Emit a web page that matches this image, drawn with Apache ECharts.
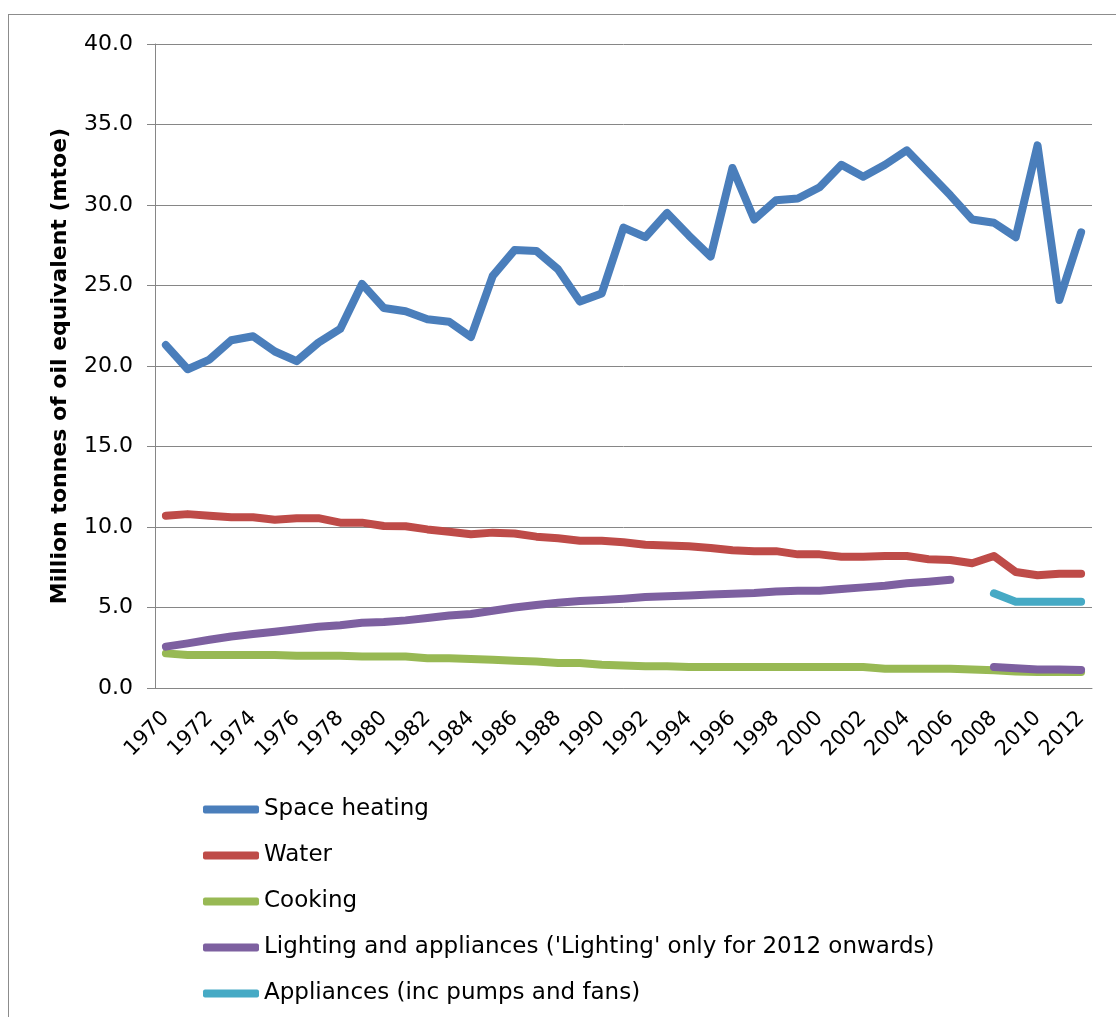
<!DOCTYPE html>
<html>
<head>
<meta charset="utf-8">
<script src="https://cdn.jsdelivr.net/npm/echarts@6/dist/echarts.min.js"></script>
<style>
  html, body { margin: 0; padding: 0; background: #fff; }
  #frame { position: absolute; left: 8px; top: 14px; width: 1120px; height: 1020px; border: 1px solid #8c8c8c; box-sizing: border-box; }
  #chart { position: absolute; left: 0; top: 0; width: 1116px; height: 1017px; }
</style>
</head>
<body>
<div id="frame"></div>
<div id="chart"></div>
<script>
// years 1970..2012
const years = [];
for (let y = 1970; y <= 2012; y++) years.push(String(y));

const spaceHeating = [21.3, 19.8, 20.4, 21.6, 21.85, 20.9, 20.3, 21.45, 22.3, 25.1,
  23.6, 23.4, 22.9, 22.75, 21.8, 25.6, 27.2, 27.15, 26.0, 24.0,
  24.5, 28.6, 28.0, 29.5, 28.1, 26.8, 32.3, 29.1, 30.3, 30.4,
  31.1, 32.5, 31.75, 32.5, 33.4, 32.0, 30.6, 29.1, 28.9, 28.0,
  33.7, 24.1, 28.3];

const water = [10.7, 10.8, 10.7, 10.6, 10.6, 10.45, 10.55, 10.55, 10.27, 10.27,
  10.06, 10.05, 9.85, 9.7, 9.55, 9.65, 9.6, 9.4, 9.3, 9.15,
  9.15, 9.05, 8.9, 8.85, 8.8, 8.7, 8.55, 8.5, 8.5, 8.3,
  8.3, 8.15, 8.15, 8.2, 8.2, 8.0, 7.95, 7.75, 8.2, 7.2,
  7.0, 7.1, 7.1];

const cooking = [2.15, 2.05, 2.05, 2.05, 2.05, 2.05, 2.0, 2.0, 2.0, 1.95,
  1.95, 1.95, 1.85, 1.85, 1.8, 1.75, 1.7, 1.65, 1.55, 1.55,
  1.45, 1.4, 1.35, 1.35, 1.3, 1.3, 1.3, 1.3, 1.3, 1.3,
  1.3, 1.3, 1.3, 1.2, 1.2, 1.2, 1.2, 1.15, 1.1, 1.02,
  1.0, 1.0, 1.0];

const lighting = [2.57, 2.77, 3.0, 3.2, 3.35, 3.5, 3.65, 3.8, 3.9, 4.05,
  4.1, 4.2, 4.35, 4.5, 4.6, 4.8, 5.0, 5.15, 5.3, 5.4,
  5.47, 5.55, 5.65, 5.7, 5.75, 5.8, 5.85, 5.9, 6.0, 6.04,
  6.04, 6.15, 6.25, 6.35, 6.5, 6.6, 6.72, null, 1.3, 1.22,
  1.15, 1.15, 1.12];

const appliances = [null, null, null, null, null, null, null, null, null, null,
  null, null, null, null, null, null, null, null, null, null,
  null, null, null, null, null, null, null, null, null, null,
  null, null, null, null, null, null, null, null, 5.88, 5.36,
  5.35, 5.35, 5.35];

const names = ['Space heating', 'Water', 'Cooking',
  "Lighting and appliances ('Lighting' only for 2012 onwards)",
  'Appliances (inc pumps and fans)'];
const colors = ['#4a7ebb', '#be4b48', '#98b954', '#7d60a0', '#46aac5'];
const seriesData = [spaceHeating, water, cooking, lighting, appliances];

const font = 'DejaVu Sans, Liberation Sans, Arial';

const chart = echarts.init(document.getElementById('chart'));
chart.setOption({
  animation: false,
  color: colors,
  grid: { left: 155, right: 24, top: 44, bottom: 329, containLabel: false },
  legend: {
    orient: 'vertical',
    left: 203,
    top: 798,
    padding: 0,
    itemWidth: 56,
    itemHeight: 8,
    itemGap: 23,
    icon: 'roundRect',
    textStyle: { fontFamily: font, fontSize: 23, color: '#000' },
    data: names
  },
  xAxis: {
    type: 'category',
    data: years,
    boundaryGap: true,
    axisLine: { lineStyle: { color: '#868686', width: 1 } },
    axisTick: { alignWithLabel: false, interval: 0, length: 6, lineStyle: { color: '#868686' } },
    axisLabel: {
      interval: 1,
      rotate: 45,
      margin: 27,
      fontFamily: font,
      fontSize: 21,
      color: '#000'
    }
  },
  yAxis: {
    type: 'value',
    min: 0,
    max: 40,
    interval: 5,
    name: 'Million tonnes of oil equivalent (mtoe)',
    nameLocation: 'middle',
    nameGap: 84,
    nameTextStyle: { fontFamily: font, fontSize: 22, fontWeight: 'bold', color: '#000' },
    axisLine: { show: true, lineStyle: { color: '#868686', width: 1 } },
    axisTick: { show: true, length: 8, lineStyle: { color: '#868686' } },
    axisLabel: {
      margin: 22,
      formatter: v => v.toFixed(1),
      fontFamily: font,
      fontSize: 22,
      color: '#000'
    },
    splitLine: { lineStyle: { color: '#868686', width: 1 } }
  },
  series: seriesData.map((d, i) => ({
    name: names[i],
    type: 'line',
    data: d,
    showSymbol: false,
    symbol: 'none',
    connectNulls: false,
    lineStyle: { width: 8, color: colors[i], cap: 'round', join: 'round' },
    itemStyle: { color: colors[i] }
  }))
});
</script>
</body>
</html>
